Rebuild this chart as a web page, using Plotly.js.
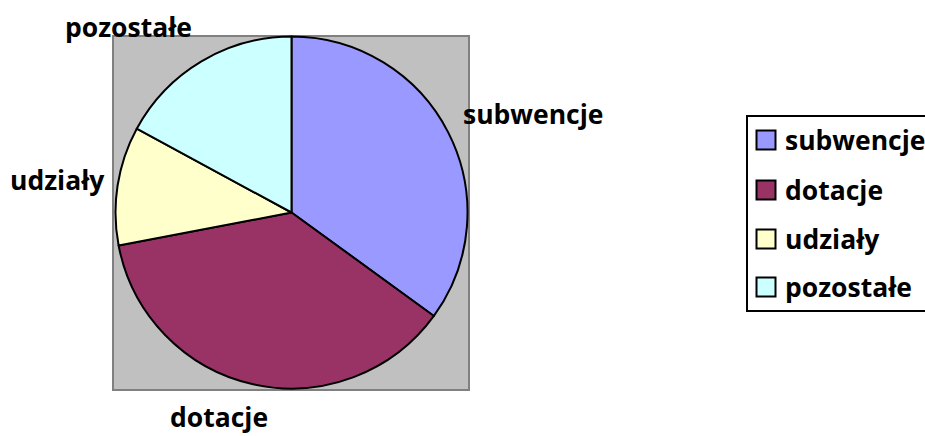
<!DOCTYPE html>
<html>
<head>
<meta charset="utf-8">
<script src="https://cdn.plot.ly/plotly-3.0.1.min.js"></script>
<style>
html,body{margin:0;padding:0;background:#fff;}
#chart{width:925px;height:436px;}
</style>
</head>
<body>
<div id="chart"></div>
<script>
// ---- data ----
var labels = ["subwencje", "dotacje", "udziały", "pozostałe"];
var values = [35.0, 37.0, 10.9, 17.1];
var colors = ["#9999FF", "#993366", "#FFFFCC", "#CCFFFF"];

// ---- layout helpers (pixel -> paper) ----
var W = 925, H = 436;
function px(x){ return x / W; }
function py(y){ return 1 - y / H; }

var FONT = "'Open Sans', Lato, sans-serif";
var FS = 26.5;

// pie geometry
var cx = 291.5, cy = 212.5, r = 176;

// outside label positions (pixel centres)
var labelPos = [[533, 114], [219, 417], [57, 180], [128, 27]];

// legend geometry
var legBox = {x0: 747, y0: 116, x1: 935, y1: 311};
var legRows = [140, 190, 239, 287];
var legSym = 19, legSymX = 766, legTextX = 783;

var shapes = [
  {type: "rect", xref: "paper", yref: "paper", layer: "below",
   x0: px(113), x1: px(469), y0: py(390), y1: py(36),
   fillcolor: "#C0C0C0", line: {color: "#808080", width: 2}},
  {type: "rect", xref: "paper", yref: "paper",
   x0: px(legBox.x0), x1: px(legBox.x1), y0: py(legBox.y1), y1: py(legBox.y0),
   fillcolor: "rgba(0,0,0,0)", line: {color: "#000", width: 2}}
];
var annotations = [];
labels.forEach(function(l, i){
  annotations.push({xref: "paper", yref: "paper", x: px(labelPos[i][0]), y: py(labelPos[i][1]),
    xanchor: "center", yanchor: "middle", showarrow: false, text: "<b>" + l + "</b>",
    font: {family: FONT, size: FS, color: "#000"}});
  shapes.push({type: "rect", xref: "paper", yref: "paper",
    x0: px(legSymX - legSym/2), x1: px(legSymX + legSym/2),
    y0: py(legRows[i] + legSym/2), y1: py(legRows[i] - legSym/2),
    fillcolor: colors[i], line: {color: "#000", width: 2}});
  annotations.push({xref: "paper", yref: "paper", x: px(legTextX), y: py(legRows[i]),
    xanchor: "left", yanchor: "middle", showarrow: false, text: "<b>" + l + "</b>",
    font: {family: FONT, size: FS, color: "#000"}});
});

var trace = {
  type: "pie",
  labels: labels,
  values: values,
  sort: false,
  direction: "clockwise",
  rotation: 0,
  textinfo: "none",
  hoverinfo: "label+percent",
  marker: {colors: colors, line: {color: "#000", width: 2}},
  domain: {x: [px(cx - r), px(cx + r)], y: [py(cy + r), py(cy - r)]},
  showlegend: false
};

var layout = {
  width: W, height: H,
  margin: {l: 0, r: 0, t: 0, b: 0},
  paper_bgcolor: "#fff",
  plot_bgcolor: "#fff",
  showlegend: false,
  shapes: shapes,
  annotations: annotations,
  font: {family: FONT}
};

Plotly.newPlot("chart", [trace], layout, {displayModeBar: false, staticPlot: true});
</script>
</body>
</html>
